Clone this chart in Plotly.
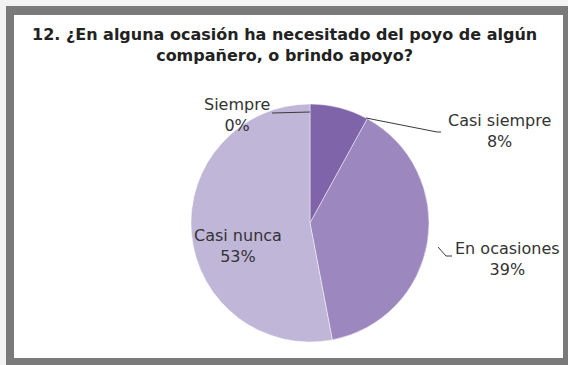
import plotly.graph_objects as go

# Survey answers for question 12 (percent of respondents)
categories = ["Siempre", "Casi siempre", "En ocasiones", "Casi nunca"]
percentages = [0, 8, 39, 53]
slice_colors = ["#5E4A7E", "#7F64AA", "#9C88BE", "#C0B6D8"]

title_lines = [
    "12. ¿En alguna ocasión ha necesitado del poyo de algún",
    "compañero, o brindo apoyo?",
]

W, H = 568, 365


def px(x):
    return x / W


def py(y):
    return 1 - y / H


# pie centre and radius in pixels
cx, cy, r = 310, 223, 119

fig = go.Figure(
    go.Pie(
        labels=categories,
        values=percentages,
        sort=False,
        direction="clockwise",
        rotation=0,
        textinfo="none",
        marker=dict(colors=slice_colors,
                    line=dict(color="rgba(255,255,255,0.45)", width=1)),
        domain=dict(x=[px(cx - r), px(cx + r)], y=[py(cy + r), py(cy - r)]),
        showlegend=False,
        hoverinfo="label+percent",
    )
)

shapes = [
    # grey frame
    dict(type="rect", xref="paper", yref="paper", x0=px(6), x1=px(568),
         y0=py(365), y1=py(6), fillcolor="#7a7a7a", line=dict(width=0),
         layer="below"),
    dict(type="rect", xref="paper", yref="paper", x0=px(14), x1=px(563),
         y0=py(358), y1=py(15), fillcolor="white", line=dict(width=0),
         layer="below"),
]

# leader lines for the outside labels
leaders = [
    [(272, 113), (310, 112)],
    [(366, 118), (437, 132), (441, 132)],
    [(438, 247), (446, 256), (452, 256)],
]
for pts in leaders:
    path = "M " + " L ".join(f"{px(x)},{py(y)}" for x, y in pts)
    shapes.append(dict(type="path", xref="paper", yref="paper", path=path,
                       line=dict(color="#3a3a3a", width=1)))

label_pos = {
    "Siempre": (237, 115),
    "Casi siempre": (499, 131),
    "En ocasiones": (507, 259),
    "Casi nunca": (238, 246),
}

annotations = []
for name, val in zip(categories, percentages):
    x, y = label_pos[name]
    annotations.append(dict(
        x=px(x), y=py(y), xref="paper", yref="paper",
        text=f"{name}<br>{val}%", showarrow=False,
        font=dict(family="DejaVu Sans", size=16, color="#333333"),
        xanchor="center", yanchor="middle", align="center",
    ))

annotations.append(dict(
    x=px(284), y=py(45), xref="paper", yref="paper",
    text="<b>" + "<br>".join(title_lines) + "</b>", showarrow=False,
    font=dict(family="DejaVu Sans", size=16, color="#222222"),
    xanchor="center", yanchor="middle", align="center",
))

fig.update_layout(
    width=W, height=H,
    margin=dict(l=0, r=0, t=0, b=0),
    paper_bgcolor="#f3f3f3",
    plot_bgcolor="white",
    shapes=shapes,
    annotations=annotations,
)

fig.write_html("out.html")
